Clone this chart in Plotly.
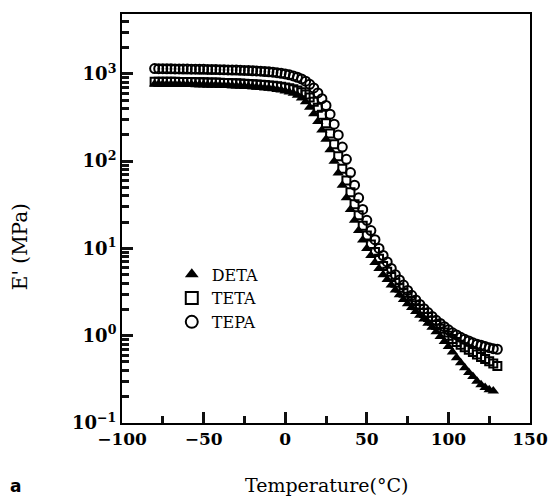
import plotly.graph_objects as go

# Storage modulus E' (MPa) against temperature for three amine curing agents
temperature = [
    -80, -77.5, -75, -72.5, -70, -67.5, -65, -62.5, -60, -57.5,
    -55, -52.5, -50, -47.5, -45, -42.5, -40, -37.5, -35, -32.5,
    -30, -27.5, -25, -22.5, -20, -17.5, -15, -12.5, -10, -7.5,
    -5, -2.5, 0, 2.5, 5, 7.5, 10, 12.5, 15, 17.5,
    20, 22.5, 25, 27.5, 30, 32.5, 35, 37.5, 40, 42.5,
    45, 47.5, 50, 52.5, 55, 57.5, 60, 62.5, 65, 67.5,
    70, 72.5, 75, 77.5, 80, 82.5, 85, 87.5, 90, 92.5,
    95, 97.5, 100, 102.5, 105, 107.5, 110, 112.5, 115, 117.5,
    120, 122.5, 125, 127.5, 130,
]

deta = [
    765, 764, 763, 762, 761, 760, 759, 758, 757, 755,
    754, 752, 750, 748, 746, 744, 741, 738, 735, 732,
    728, 724, 720, 715, 710, 704, 698, 691, 683, 674,
    664, 652, 638, 620, 598, 570, 530, 480, 415, 350,
    285, 228, 178, 135, 100, 73, 53, 38, 28, 21,
    16, 12.5, 10.0, 8.3, 6.9, 5.9, 5.0, 4.4, 3.8, 3.35,
    2.95, 2.6, 2.33, 2.1, 1.9, 1.72, 1.55, 1.39, 1.25, 1.11,
    0.98, 0.86, 0.75, 0.65, 0.56, 0.49, 0.43, 0.38, 0.34, 0.30,
    0.275, 0.255, 0.24, 0.232,
]

teta = [
    815, 814, 813, 812, 811, 810, 809, 808, 807, 805,
    804, 802, 800, 798, 796, 794, 791, 788, 785, 782,
    779, 775, 771, 767, 762, 757, 751, 745, 738, 730,
    721, 711, 699, 685, 668, 646, 617, 582, 535, 478,
    410, 340, 272, 208, 156, 114, 82, 60, 44, 32,
    24, 18.2, 14.1, 11.1, 9.1, 7.6, 6.3, 5.4, 4.7, 4.05,
    3.55, 3.1, 2.8, 2.5, 2.24, 2.02, 1.82, 1.64, 1.48, 1.33,
    1.20, 1.09, 1.00, 0.92, 0.85, 0.79, 0.74, 0.69, 0.65, 0.61,
    0.57, 0.54, 0.51, 0.48, 0.45,
]

tepa = [
    1150, 1148, 1146, 1144, 1142, 1140, 1138, 1136, 1135, 1133,
    1131, 1129, 1127, 1125, 1122, 1120, 1117, 1114, 1111, 1108,
    1104, 1100, 1096, 1091, 1086, 1080, 1073, 1065, 1056, 1045,
    1032, 1017, 998, 975, 948, 915, 875, 825, 760, 690,
    605, 520, 435, 345, 265, 200, 145, 105, 74, 53,
    38, 28, 21, 16, 12.6, 10.0, 8.3, 7.0, 5.9, 5.0,
    4.35, 3.8, 3.3, 2.9, 2.57, 2.28, 2.04, 1.84, 1.66, 1.50,
    1.38, 1.27, 1.17, 1.08, 1.02, 0.96, 0.91, 0.87, 0.83, 0.80,
    0.78, 0.75, 0.73, 0.71, 0.70,
]

x_ticks = [-100, -50, 0, 50, 100, 150]
x_tick_text = ["<b>−100</b>", "<b>−50</b>", "<b>0</b>", "<b>50</b>",
               "<b>100</b>", "<b>150</b>"]
x_minor_ticks = [-75, -25, 25, 75, 125]
y_ticks = [0.1, 1, 10, 100, 1000]
y_tick_text = ["<b>10<sup>−1</sup></b>", "<b>10<sup>0</sup></b>",
               "<b>10<sup>1</sup></b>", "<b>10<sup>2</sup></b>",
               "<b>10<sup>3</sup></b>"]

serif = "DejaVu Serif"

fig = go.Figure()
fig.add_trace(go.Scatter(
    x=temperature[:len(deta)], y=deta, mode="markers", name="DETA",
    marker=dict(symbol="triangle-up", size=10, color="black",
                line=dict(width=0)),
))
fig.add_trace(go.Scatter(
    x=temperature, y=teta, mode="markers", name="TETA",
    marker=dict(symbol="square-open", size=8, color="black",
                line=dict(width=2)),
))
fig.add_trace(go.Scatter(
    x=temperature, y=tepa, mode="markers", name="TEPA",
    marker=dict(symbol="circle-open", size=9, color="black",
                line=dict(width=2)),
))

fig.update_layout(
    width=560, height=498,
    margin=dict(l=122, r=19, t=12, b=75),
    paper_bgcolor="white", plot_bgcolor="white",
    showlegend=True,
    legend=dict(
        x=0.122, y=0.405, xanchor="left", yanchor="top",
        bgcolor="rgba(0,0,0,0)", borderwidth=0,
        font=dict(family=serif, size=16, color="black"),
        itemsizing="constant", tracegroupgap=0,
    ),
    annotations=[
        dict(text="Temperature(°C)", xref="paper", yref="paper",
             x=0.5, y=-0.151, xanchor="center", yanchor="middle",
             showarrow=False, font=dict(family=serif, size=19, color="black")),
        dict(text="E' (MPa)", xref="paper", yref="paper",
             x=-0.25, y=0.43, xanchor="center", yanchor="middle",
             textangle=-90, showarrow=False,
             font=dict(family=serif, size=20, color="black")),
        dict(text="<b>a</b>", xref="paper", yref="paper",
             x=-0.262, y=-0.155, xanchor="center", yanchor="middle",
             showarrow=False,
             font=dict(family="DejaVu Sans", size=17, color="black")),
    ],
)

fig.update_xaxes(
    range=[-100, 150], tickmode="array", tickvals=x_ticks,
    ticktext=x_tick_text, layer="above traces",
    showgrid=False, zeroline=False,
    showline=True, linecolor="black", linewidth=2, mirror=True,
    ticks="inside", ticklen=11, tickwidth=3, tickcolor="#111111",
    tickfont=dict(family=serif, size=17, color="black"),
    minor=dict(ticks="inside", ticklen=7, tickwidth=2.5, tickcolor="#111111",
               tickvals=x_minor_ticks),
)
fig.update_yaxes(
    type="log", range=[-1, 3.686], tickmode="array", tickvals=y_ticks,
    ticktext=y_tick_text, layer="above traces",
    showgrid=False, zeroline=False,
    showline=True, linecolor="black", linewidth=2, mirror=True,
    ticks="inside", ticklen=11, tickwidth=3, tickcolor="#111111",
    tickfont=dict(family=serif, size=18, color="black"),
    minor=dict(ticks="inside", ticklen=7, tickwidth=2.5, tickcolor="#111111",
               dtick="D1"),
)

fig.write_html("out.html")
